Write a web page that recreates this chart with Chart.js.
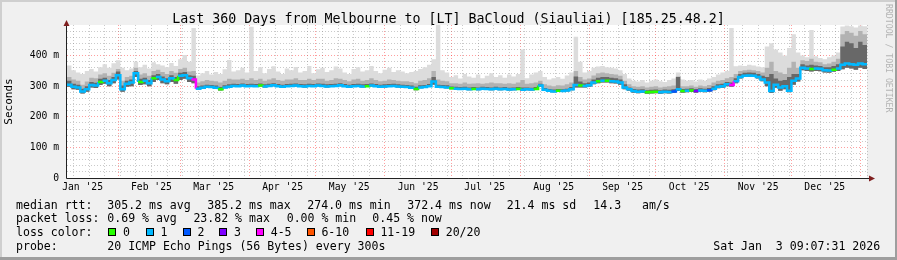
<!DOCTYPE html>
<html><head><meta charset="utf-8">
<script src="https://cdn.jsdelivr.net/npm/chart.js@4.4.1/dist/chart.umd.min.js"></script>
<style>
html,body{margin:0;padding:0;background:#f0f0f0;}
#frame{position:relative;width:897px;height:260px;overflow:hidden;background:#f0f0f0;font-family:"DejaVu Sans Mono",monospace;color:#000;}
#c{position:absolute;left:0;top:0;}
.sh{position:absolute;}
.t{position:absolute;white-space:pre;font-size:11.55px;line-height:14px;}
.box{position:absolute;width:6px;height:6px;border:1px solid #000;}
#title{position:absolute;left:0;top:11px;width:897px;text-align:center;font-size:13.3px;line-height:16px;white-space:pre;}
#vert{position:absolute;left:884px;top:4px;writing-mode:vertical-rl;font-size:8.2px;line-height:9px;color:#b4b4b4;white-space:pre;}
</style></head>
<body>
<div id="frame">
  <div class="sh" style="left:0;top:0;width:897px;height:2px;background:#cfcfcf"></div>
  <div class="sh" style="left:0;top:0;width:2px;height:260px;background:#cfcfcf"></div>
  <div class="sh" style="left:0;top:257px;width:897px;height:3px;background:#9e9e9e"></div>
  <div class="sh" style="left:895px;top:0;width:2px;height:260px;background:#9e9e9e"></div>
  <canvas id="c" width="897" height="260"></canvas>
  <div id="title">Last 360 Days from Melbourne to [LT] BaCloud (Siauliai) [185.25.48.2]</div>
  <div id="vert">RRDTOOL / TOBI OETIKER</div>
  <div id="legend"></div>
</div>
<script>
// ---- time axis (days since 1 Jan 2025) ----
const xMin = 8, xMax = 368, startDay = 8, stepDays = 2, firstSunday = 11;
const monthStartDays = [0,31,59,90,120,151,181,212,243,273,304,334,365];
const monthLabelDays = [15,46,74,105,135,166,196,227,258,288,319,349];
const monthLabels = ["Jan '25","Feb '25","Mar '25","Apr '25","May '25","Jun '25","Jul '25","Aug '25","Sep '25","Oct '25","Nov '25","Dec '25"];
// ---- y axis (ms) ----
const yMin = 0, yMax = 500;
const yTickValues = [0,20,40,60,80,100,120,140,160,180,200,220,240,260,280,300,320,340,360,380,400,420,440,460,480];
const yMajorValues = [100,200,300,400];

// ---- series (ms), one value per 2-day step ----
const median = [
305,298,296,283,290,304,302,314,318,310,
320,336,290,308,312,342,314,318,310,326,
330,322,316,326,320,334,336,326,322,
292,295,298,297,295,290,296,298,301,300,
302,300,301,300,302,299,301,303,300,298,
300,301,302,300,299,301,300,302,301,299,
300,301,303,300,298,300,301,299,300,302,
300,298,299,300,301,299,298,297,295,291,
296,297,300,315,298,297,296,
293,292,291,292,290,291,290,292,291,290,
292,290,291,289,290,291,288,290,289,291,
302,288,285,283,285,284,286,290,
304,302,301,303,312,316,318,318,316,315,312,
296,290,284,282,283,280,281,282,280,282,
281,283,290,284,285,286,284,286,285,287,
292,298,
300,306,304,316,330,334,335,334,330,322,
312,284,305,296,300,285,318,325,
360,358,356,358,357,352,351,354,358,
370,374,372,370,374,372];
const smokeTop = [
368,352,345,340,350,356,348,362,372,360,
375,385,360,352,358,380,362,370,358,378,
372,368,362,376,366,388,402,380,490,
335,342,350,338,346,340,355,386,348,352,
360,345,494,350,362,342,356,365,348,340,
358,352,363,345,350,366,342,355,360,346,
352,364,358,345,340,356,362,348,352,366,
350,342,354,360,346,352,348,342,346,350,
356,362,370,388,500,352,345,
330,336,325,340,332,328,338,326,334,342,
330,336,328,338,332,340,420,326,338,345,
350,330,322,326,330,324,335,345,
462,380,345,350,360,364,366,362,360,358,352,
340,325,318,315,320,312,318,322,316,314,
320,325,345,322,318,320,315,322,318,325,
330,338,
345,350,490,365,368,366,370,368,364,362,
430,440,420,410,400,425,470,410,
400,395,484,398,392,388,395,400,410,
495,498,496,492,498,496];
const smokeMid = [
330,322,318,305,315,328,326,338,342,334,
344,356,318,330,334,360,338,342,334,350,
354,346,340,350,344,356,360,348,350,
312,316,320,318,316,312,318,324,322,322,
324,320,326,320,324,318,322,326,320,318,
322,322,326,320,320,324,320,324,324,318,
320,326,324,320,316,322,324,318,320,326,
320,316,318,322,320,318,316,316,314,310,
318,320,326,350,322,318,316,
310,310,308,312,308,309,310,308,310,312,
310,310,308,310,308,312,320,308,310,312,
318,306,302,300,303,302,306,312,
350,330,322,325,335,342,345,342,340,338,334,
318,306,300,298,300,296,298,300,296,298,
300,302,332,300,300,302,298,302,300,304,
312,318,
320,326,330,340,350,352,354,352,350,345,
360,380,350,345,340,360,380,360,
385,382,390,380,378,372,374,380,390,
470,480,475,465,480,470];
const smokeDark = [
318,308,305,292,300,314,311,324,328,320,
330,348,302,318,322,350,324,328,320,336,
340,332,326,336,330,344,346,336,334,
300,302,305,304,302,297,303,306,308,307,
309,307,308,307,309,306,308,310,307,305,
307,308,309,307,306,308,307,309,308,306,
307,308,310,307,305,307,308,306,307,309,
307,305,306,307,308,306,305,304,302,298,
303,304,307,330,305,304,303,
299,298,297,298,296,297,296,298,297,296,
298,296,297,295,296,297,296,296,295,297,
308,294,291,289,291,290,292,297,
332,315,310,312,322,328,330,330,328,326,322,
306,296,291,289,290,287,288,289,287,289,
288,290,330,291,292,293,291,293,292,294,
300,306,
308,314,312,326,340,344,345,344,340,334,
330,340,325,318,320,330,340,340,
372,368,370,368,366,362,362,366,372,
430,445,440,425,445,435];
const smokeLow = [
298,290,288,276,282,296,294,304,308,300,
310,322,282,298,300,330,304,306,300,314,
320,310,306,314,308,320,324,314,310,
288,292,295,294,292,286,293,295,298,297,
299,297,298,297,299,296,298,300,297,295,
297,298,299,297,296,298,297,299,298,296,
297,298,300,297,295,297,298,296,297,299,
297,295,296,297,298,296,295,294,292,287,
293,294,297,305,295,294,293,
290,289,288,289,287,288,287,289,288,287,
289,287,288,286,287,288,285,287,286,288,
298,285,282,280,282,281,283,287,
296,296,296,298,306,310,312,312,310,309,305,
290,285,279,277,278,275,276,277,275,277,
276,278,284,279,280,281,279,281,280,282,
287,293,
295,300,298,310,325,330,331,330,325,316,
300,278,295,285,290,280,305,315,
352,350,348,350,349,345,344,347,350,
355,360,358,354,360,356];
// loss colour class per step: 0="0",1="1",2="2",3="3",4="4-5",5="6-10",6="11-19",7="20/20"
const lossClass = [
1,1,1,1,1,1,1,0,1,1, 1,1,1,1,1,1,0,1,1,0, 1,1,1,1,0,1,1,1,4,1,
1,1,1,1,0,1,1,1,1,1, 1,1,1,0,1,1,1,1,1,1, 1,1,1,1,1,1,1,1,1,1,
1,1,1,1,1,1,1,0,1,1, 1,1,1,1,1,1,1,1,0,1, 1,1,1,1,1,1,0,1,1,1,
1,0,1,1,1,1,1,1,1,1, 1,0,1,1,1,0,1,1,1,1, 0,1,1,1,1,0,1,1,1,0,
1,0,1,1,1,1,1,1,1,1, 0,0,0,1,1,1,2,1,0,1, 0,3,1,1,2,1,1,1,1,4,
1,1,1,1,1,1,1,1,1,1, 1,1,1,1,1,1,1,0,1,1, 1,1,0,1,1,1,1,1,1,1];
const lossColors = ['#26ff00','#00b8ff','#0059ff','#7e00ff','#ff00ff','#ff5500','#ff0000','#a10000'];
const lossLabels = ['0','1','2','3','4-5','6-10','11-19','20/20'];

// ---- legend text ----
const legendLines = [
  {c:204.7, items:[["median rtt:",16],["305.2 ms avg",107.3],["385.2 ms max",207.3],["274.0 ms min",307.3],["372.4 ms now",407.3],["21.4 ms sd",506.7],["14.3   am/s",593.3]]},
  {c:218.3, items:[["packet loss:",16],["0.69 % avg",107.3],["23.82 % max",193.4],["0.00 % min",286.7],["0.45 % now",372.3]]},
  {c:232.3, items:[["loss color:",16]]},
  {c:246.0, items:[["probe:",16],["20 ICMP Echo Pings (56 Bytes) every 300s",107.3],["Sat Jan  3 09:07:31 2026",713.3]]}
];
const lossBoxX = [108.3,145.7,182.7,219.3,256,306.7,365.7,431];

const leg = document.getElementById('legend');
legendLines.forEach(l => l.items.forEach(([txt,x]) => {
  const d = document.createElement('div'); d.className='t'; d.textContent=txt;
  d.style.left = x+'px'; d.style.top = (l.c-7)+'px'; leg.appendChild(d);
}));
lossBoxX.forEach((x,k) => {
  const b = document.createElement('div'); b.className='box'; b.style.background=lossColors[k];
  b.style.left = x+'px'; b.style.top = '228px'; leg.appendChild(b);
  const d = document.createElement('div'); d.className='t'; d.textContent=lossLabels[k];
  d.style.left = (x+14.7)+'px'; d.style.top = (232.3-7)+'px'; leg.appendChild(d);
});

// ---- x ticks: weekly minor grid, monthly major grid, mid-month labels ----
const xTickInfo = new Map();
for (let d = firstSunday; d <= xMax; d += 7) xTickInfo.set(d, {grid:'minor', label:''});
monthStartDays.forEach(d => { if (d >= xMin && d <= xMax) { const e = xTickInfo.get(d) || {label:''}; e.grid='major'; xTickInfo.set(d,e);} });
monthLabelDays.forEach((d,k) => { if (d >= xMin && d <= xMax) { const e = xTickInfo.get(d) || {grid:'none'}; e.label = monthLabels[k]; xTickInfo.set(d,e);} });
const xTickValues = [...xTickInfo.keys()].sort((a,b)=>a-b);

const MINOR = 'rgba(128,128,128,0.42)', MAJOR = 'rgba(255,0,0,0.38)', NONE = 'rgba(0,0,0,0)';

function series(arr){
  const pts = arr.map((v,i) => ({x: startDay + i*stepDays, y: v}));
  pts.push({x: xMax, y: arr[arr.length-1]});
  return pts;
}

const bgPlugin = {
  id:'bg',
  beforeDraw(chart){
    const {ctx, chartArea:a} = chart;
    ctx.save(); ctx.fillStyle = '#ffffff';
    ctx.fillRect(a.left, a.top, a.right-a.left, a.bottom-a.top);
    ctx.restore();
  }
};
const axisPlugin = {
  id:'axes',
  afterDraw(chart){
    const {ctx, chartArea:a} = chart;
    ctx.save();
    ctx.strokeStyle = '#222'; ctx.lineWidth = 1;
    ctx.beginPath();
    ctx.moveTo(a.left - 0.5, a.bottom + 0.5); ctx.lineTo(a.right + 3, a.bottom + 0.5);
    ctx.moveTo(a.left - 0.5, a.bottom + 0.5); ctx.lineTo(a.left - 0.5, a.top - 1);
    ctx.stroke();
    ctx.fillStyle = '#7f1f1f';
    ctx.beginPath();
    ctx.moveTo(a.right + 8, a.bottom + 0.5); ctx.lineTo(a.right + 2, a.bottom - 2.5); ctx.lineTo(a.right + 2, a.bottom + 3.5); ctx.closePath(); ctx.fill();
    ctx.beginPath();
    ctx.moveTo(a.left - 0.5, a.top - 5); ctx.lineTo(a.left - 3.5, a.top + 1); ctx.lineTo(a.left + 2.5, a.top + 1); ctx.closePath(); ctx.fill();
    ctx.restore();
  }
};

Chart.defaults.font.family = "'DejaVu Sans Mono', monospace";
Chart.defaults.color = '#000';

new Chart(document.getElementById('c'), {
  type: 'line',
  data: {
    datasets: [
      {label:'low', data: series(smokeLow), borderWidth:0, pointRadius:0, fill:false, stepped:true, order:10},
      {label:'top', data: series(smokeTop), borderWidth:0, pointRadius:0, fill:0, backgroundColor:'#dcdcdc', stepped:true, order:5},
      {label:'mid', data: series(smokeMid), borderWidth:0, pointRadius:0, fill:0, backgroundColor:'#b2b2b2', stepped:true, order:4},
      {label:'dark', data: series(smokeDark), borderWidth:0, pointRadius:0, fill:0, backgroundColor:'#686868', stepped:true, order:3},
      {label:'median', data: series(median), borderWidth:2.5, pointRadius:0, fill:false, stepped:true, order:1,
        borderColor: lossColors[1],
        segment: { borderColor: ctx => lossColors[lossClass[Math.min(ctx.p0DataIndex, lossClass.length-1)]] }}
    ]
  },
  options: {
    responsive:false, animation:false, devicePixelRatio:1,
    layout:{padding:{left:0, right:30, top:25, bottom:0}},
    plugins:{legend:{display:false}, tooltip:{enabled:false}},
    scales:{
      x:{
        type:'linear', min:xMin, max:xMax, z:1,
        afterBuildTicks: s => { s.ticks = xTickValues.map(v => ({value:v})); },
        afterFit: s => { s.height = 82; s.paddingLeft = 0; s.paddingRight = 0; },
        ticks:{autoSkip:false, maxRotation:0, minRotation:0, padding:4, color:'#000',
          font:{size:9.7}, callback: v => (xTickInfo.get(v) || {label:''}).label},
        grid:{drawTicks:false, lineWidth:1, color: ctx => {
          const info = ctx.tick ? xTickInfo.get(ctx.tick.value) : null;
          if (!info) return NONE;
          return info.grid === 'major' ? MAJOR : info.grid === 'minor' ? MINOR : NONE; }},
        border:{display:false, dash:[1,2]}
      },
      y:{
        type:'linear', min:yMin, max:yMax, z:1,
        afterBuildTicks: s => { s.ticks = yTickValues.map(v => ({value:v})); },
        afterFit: s => { s.width = 67; s.paddingTop = 0; s.paddingBottom = 0; },
        ticks:{autoSkip:false, padding:8, color:'#000', font:{size:9.7},
          callback: v => v === 0 ? '0' : (yMajorValues.includes(v) ? v + ' m' : '')},
        title:{display:true, text:'Seconds', color:'#000', font:{size:11}, padding:{top:3, bottom:0}},
        grid:{drawTicks:false, lineWidth:1, color: ctx => {
          const v = ctx.tick ? ctx.tick.value : -1;
          if (v <= 0) return NONE;
          return yMajorValues.includes(v) ? MAJOR : MINOR; }},
        border:{display:false, dash:[1,2]}
      }
    }
  },
  plugins:[bgPlugin, axisPlugin]
});
</script>
</body></html>
